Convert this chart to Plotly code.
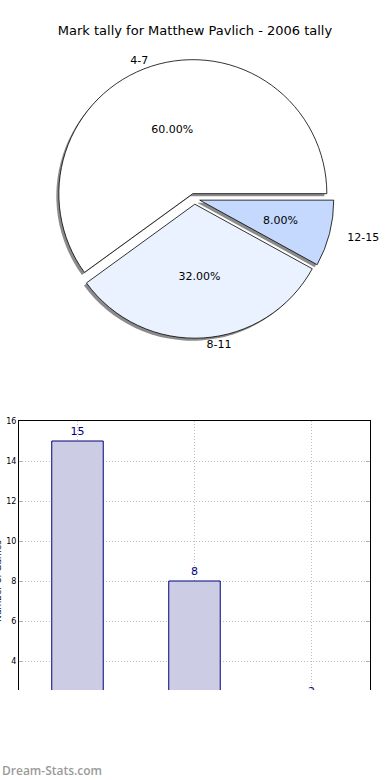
import plotly.graph_objects as go

# ---- data ----
categories = ["4-7", "8-11", "12-15"]
tally = [15, 8, 2]
pie_colors = ["#FFFFFF", "#EBF2FF", "#C5D9FF"]
title_text = "Mark tally for Matthew Pavlich - 2006 tally"
y_title = "Number of Games"
y_ticks = [4, 6, 8, 10, 12, 14, 16]

W, H = 390, 780
FONT = "DejaVu Sans"
PCT = "%{percent:.2%}"
ROT = -126  # first slice spans counterclockwise from 3 o'clock
OFFSET = 5.4  # explode distance in px
cx, cy = 194.5, 198.8


def dom(r, dx=0, dy=0):
    half = r + OFFSET
    return dict(x=[(cx - half + dx) / W, (cx + half + dx) / W],
                y=[(H - (cy + half + dy)) / H, (H - (cy - half + dy)) / H])


def pulls(r):
    return [OFFSET / r] * len(tally)


R = 134
common = dict(labels=categories, values=tally, sort=False,
              direction="counterclockwise", rotation=ROT, showlegend=False)
clear = dict(colors=["rgba(0,0,0,0)"] * 3, line=dict(width=0))

fig = go.Figure()
# shadow
fig.add_trace(go.Pie(**common, pull=pulls(R), domain=dom(R, -2.5, 2.5),
                     marker=dict(colors=["rgba(110,110,110,0.8)"] * 3, line=dict(width=0)),
                     textinfo="none", hoverinfo="skip"))
# main pie (percent of the two big slices)
fig.add_trace(go.Pie(**common, pull=pulls(R), domain=dom(R),
                     marker=dict(colors=pie_colors, line=dict(color="black", width=0.8)),
                     texttemplate=[PCT, PCT, ""], textposition="inside",
                     insidetextorientation="horizontal",
                     textfont=dict(family=FONT, size=11, color="black")))
# percent of the small slice, placed on an inner ring
Rs = 104
fig.add_trace(go.Pie(**common, pull=pulls(Rs), domain=dom(Rs), marker=clear,
                     texttemplate=["", "", PCT], textposition="inside",
                     insidetextorientation="horizontal",
                     textfont=dict(family=FONT, size=11, color="black"),
                     hoverinfo="skip"))
# outside labels
fig.add_trace(go.Pie(**common, pull=pulls(R), domain=dom(R), marker=clear,
                     texttemplate=["%{label}", "%{label}", ""], textposition="outside",
                     outsidetextfont=dict(family=FONT, size=11, color="black"),
                     hoverinfo="skip"))
Rl = 149
fig.add_trace(go.Pie(**common, pull=pulls(Rl), domain=dom(Rl), marker=clear,
                     texttemplate=["", "", "%{label}"], textposition="outside",
                     outsidetextfont=dict(family=FONT, size=11, color="black"),
                     hoverinfo="skip"))

# bar chart
fig.add_trace(go.Bar(
    x=categories, y=tally, width=0.44,
    marker=dict(color="#CCCCE5", line=dict(color="#000080", width=1)),
    text=[str(v) for v in tally], textposition="outside",
    textfont=dict(family=FONT, size=11, color="#000080"),
    cliponaxis=False, showlegend=False, xaxis="x", yaxis="y",
))

GRID = "#c0c0c0"
fig.update_layout(
    width=W, height=H,
    margin=dict(l=0, r=0, t=0, b=0, autoexpand=False),
    paper_bgcolor="white", plot_bgcolor="white",
    font=dict(family=FONT, color="black"),
    title=dict(text=title_text, x=0.5, xanchor="center", xref="paper",
               y=1 - 30 / H, yref="paper", yanchor="middle",
               font=dict(family=FONT, size=13, color="black")),
    xaxis=dict(domain=[19 / W, 370 / W], range=[-0.5, 2.5], automargin=False,
               showline=True, linecolor="black", linewidth=1, mirror=True,
               showgrid=True, gridcolor=GRID, griddash="1px,2px", gridwidth=1,
               ticks="inside", ticklen=4, tickcolor="#b0b0b0",
               tickfont=dict(family=FONT, size=9), zeroline=False),
    yaxis=dict(domain=[1 - 741 / H, 1 - 421 / H], range=[0, 16], automargin=False,
               tickvals=y_ticks,
               showline=True, linecolor="black", linewidth=1, mirror="ticks",
               showgrid=True, gridcolor=GRID, griddash="1px,2px", gridwidth=1,
               ticks="inside", ticklen=4, tickcolor="#b0b0b0",
               tickfont=dict(family=FONT, size=8, color="black"),
               zeroline=False),
    shapes=[dict(type="rect", xref="paper", yref="paper",
                 x0=-0.01, x1=1.01, y0=-0.01, y1=(H - 690) / H,
                 fillcolor="white", line=dict(width=0), layer="above")],
    annotations=[
        dict(text=y_title, xref="paper", yref="paper", textangle=-90,
             x=-2 / W, y=1 - 581 / H, xanchor="center", yanchor="middle",
             showarrow=False, font=dict(family=FONT, size=9, color="black")),
        dict(text="Dream-Stats.com", xref="paper", yref="paper",
             x=0, y=1 - 770 / H, xanchor="left", yanchor="middle",
             showarrow=False,
             font=dict(family="Open Sans", size=12, color="#9a9a9a", weight=600)),
    ],
)

fig.write_html(
    "out.html",
    config={"displayModeBar": False},
    post_script="document.body.style.margin='0';document.body.style.overflow='hidden';",
)
